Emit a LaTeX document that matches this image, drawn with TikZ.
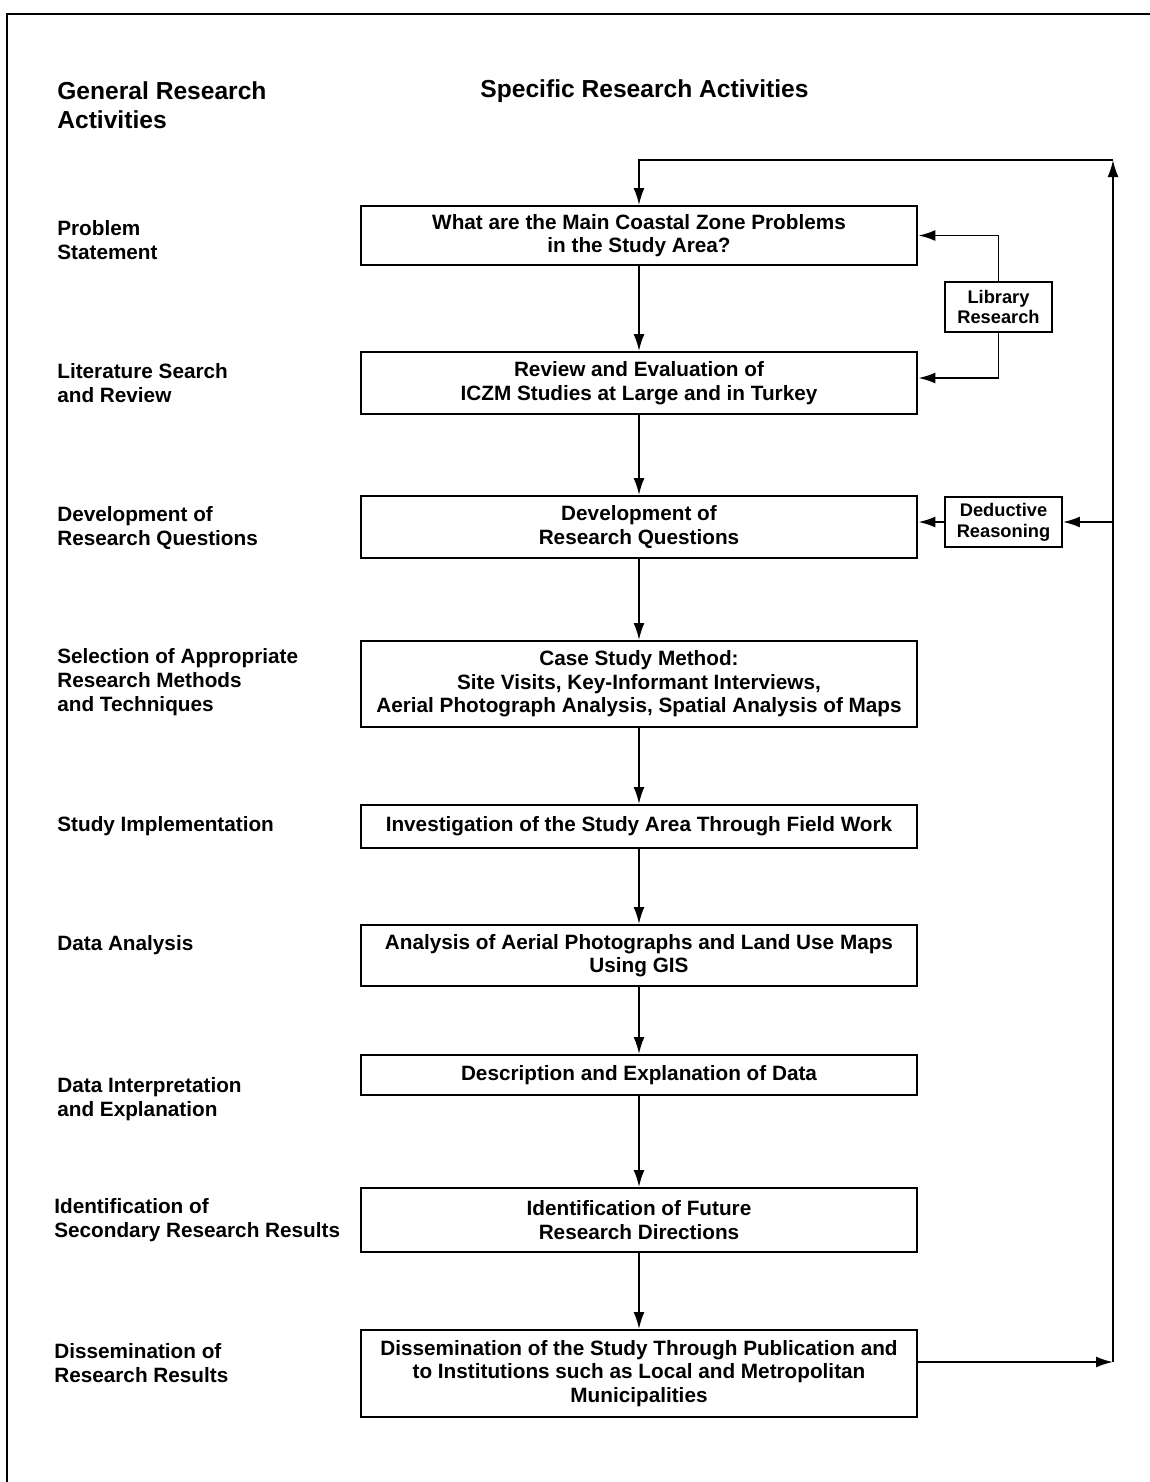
\documentclass[tikz,border=0pt]{standalone}
\usepackage{fontspec}
\setmainfont{Liberation Sans}
\usetikzlibrary{arrows.meta,positioning,calc}

\begin{document}
\begin{tikzpicture}
[x=0.02cm,y=-0.02cm,
%
stage/.style={shape=rectangle,draw=black,line width=1.1pt,minimum width=11.14cm,
  align=center,inner sep=2pt,font=\fontsize{11.8}{13.3}\selectfont\bfseries},
side/.style={shape=rectangle,draw=black,line width=1.1pt,minimum height=1cm,
  align=center,inner sep=2pt,font=\fontsize{10.4}{11.9}\selectfont\bfseries},
general/.style={anchor=west,align=left,inner sep=0pt,
  font=\fontsize{11.8}{13.6}\selectfont\bfseries},
head/.style={inner sep=0pt,font=\fontsize{14}{16.4}\selectfont\bfseries},
%
flow/.style={draw,line width=1.1pt,-{Latex[length=3.4mm,width=2.2mm]}},
frame/.style={draw,line width=1.6pt}]
%
\useasboundingbox (0,0) rectangle (1150,1482);
% frame
\draw[frame] (1150,14) -- (7,14) -- (7,1482);
%%
% headings
\node (genhead) [head,anchor=west,align=left] at (57,105.5) {General Research\\Activities};
\node (spechead) [head] at (644.5,91) {Specific Research Activities};
%%
% specific activities
\node (problem) [stage,minimum height=1.18cm] at (639,235.5)
  {What are the Main Coastal Zone Problems\\in the Study Area?};
\node (review) [stage,minimum height=1.24cm] at (639,383)
  {Review and Evaluation of\\ICZM Studies at Large and in Turkey};
\node (devq) [stage,minimum height=1.24cm] at (639,527)
  {Development of\\Research Questions};
\node (method) [stage,minimum height=1.72cm] at (639,684)
  {Case Study Method:\\Site Visits, Key-Informant Interviews,\\Aerial Photograph Analysis, Spatial Analysis of Maps};
\node (field) [stage,minimum height=0.86cm] at (639,826.5)
  {Investigation of the Study Area Through Field Work};
\node (gis) [stage,minimum height=1.22cm] at (639,955.5)
  {Analysis of Aerial Photographs and Land Use Maps\\Using GIS};
\node (descr) [stage,minimum height=0.8cm] at (639,1075)
  {Description and Explanation of Data};
\node (future) [stage,minimum height=1.28cm] at (639,1220)
  {Identification of Future\\Research Directions};
\node (dissem) [stage,minimum height=1.74cm] at (639,1373.5)
  {Dissemination of the Study Through Publication and\\to Institutions such as Local and Metropolitan\\Municipalities};
%%
% side boxes
\node (library) [side,minimum width=2.14cm] at (998.5,307) {Library\\Research};
\node (deduct) [side,minimum width=2.34cm] at (1003.5,522) {Deductive\\Reasoning};
%%
% general activities
\node (gproblem) [general] at (57,240) {Problem\\Statement};
\node (glit) [general] at (57,383.5) {Literature Search\\and Review};
\node (gdev) [general] at (57,528) {Development of\\Research Questions};
\node (gsel) [general] at (57,682.5) {Selection of Appropriate\\Research Methods\\and Techniques};
\node (gimpl) [general] at (57,826) {Study Implementation};
\node (gdata) [general] at (57,945) {Data Analysis};
\node (ginterp) [general] at (57,1099) {Data Interpretation\\and Explanation};
\node (gident) [general] at (54,1220) {Identification of\\Secondary Research Results};
\node (gdiss) [general] at (54,1363) {Dissemination of\\Research Results};
%%
% main chain
\draw[flow] (problem) -- (review);
\draw[flow] (review) -- (devq);
\draw[flow] (devq) -- (method);
\draw[flow] (method) -- (field);
\draw[flow] (field) -- (gis);
\draw[flow] (gis) -- (descr);
\draw[flow] (descr) -- (future);
\draw[flow] (future) -- (dissem);
%%
% side inputs
\draw[flow] (library.north) |- (problem.east);
\draw[flow] (library.south) |- ([yshift=0.1cm]review.east);
\draw[flow] (deduct.west) -- (deduct.west -| devq.east);
%%
% feedback loop
\coordinate (loopT) at (1113,160);
\coordinate (loopB) at (1113,1362);
\draw[flow] (loopB -| dissem.east) -- (loopB);
\draw[flow] (loopB) -- (loopT);
\draw[flow] (loopT) -| (problem.north);
\draw[flow] (loopT |- deduct) -- (deduct.east);
\end{tikzpicture}
\end{document}
